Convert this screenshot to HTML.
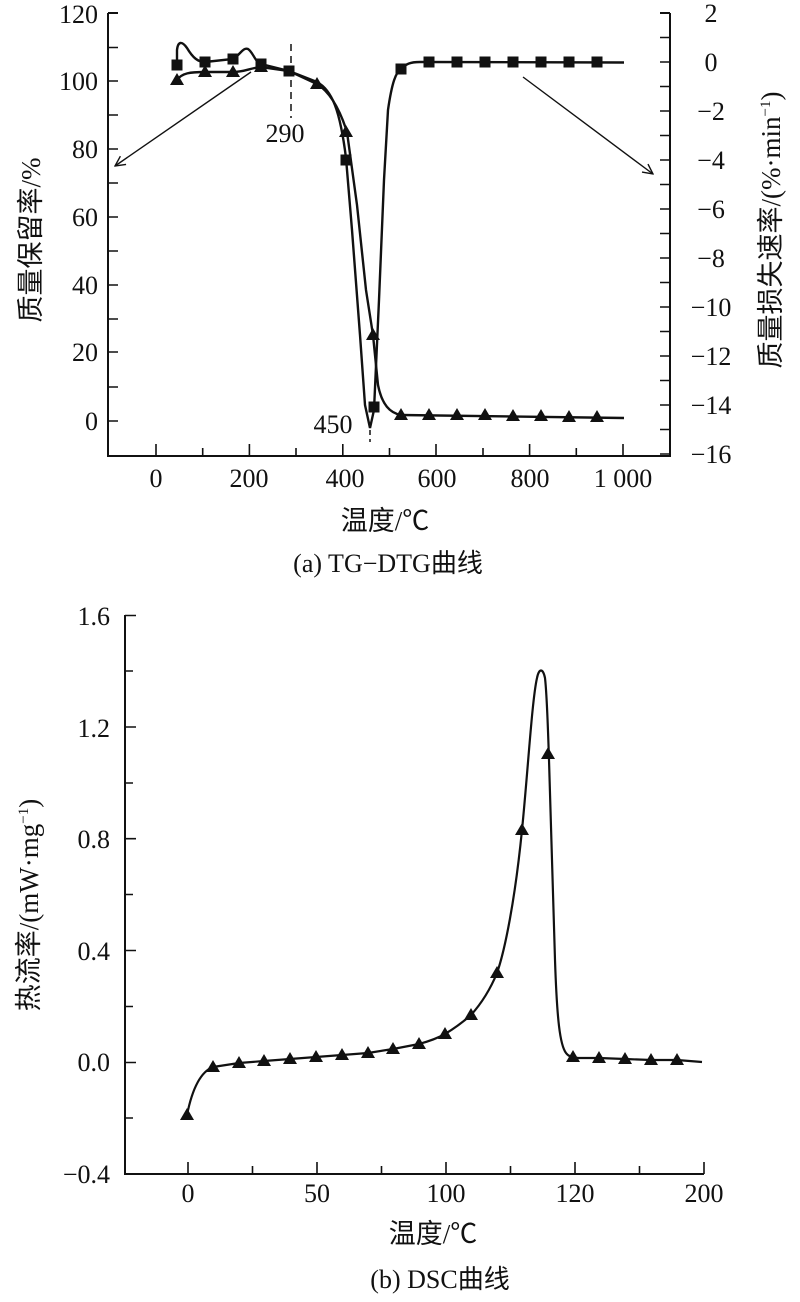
<!DOCTYPE html>
<html><head><meta charset="utf-8"><style>
html,body{margin:0;padding:0;background:#fff;}
svg{display:block;}
text{font-family:"Liberation Serif","Noto Serif CJK SC","Noto Sans CJK SC",serif;fill:#111;}
.cj{font-family:"Liberation Serif","Noto Sans CJK SC",sans-serif;}
</style></head><body>
<svg width="800" height="1302" viewBox="0 0 800 1302" xmlns="http://www.w3.org/2000/svg">
<defs>
<marker id="ah" viewBox="0 0 12 12" refX="11" refY="6" markerWidth="12" markerHeight="12" markerUnits="userSpaceOnUse" orient="auto">
<path d="M1,1 L11,6 L1,11" fill="none" stroke="#111" stroke-width="1.4"/>
</marker>
<symbol id="tri" viewBox="-7 -7 14 14" overflow="visible"><polygon points="0,-7 7,5 -7,5" fill="#111"/></symbol>
<symbol id="sq" viewBox="-6 -6 12 12" overflow="visible"><rect x="-5.5" y="-5.5" width="11" height="11" fill="#111"/></symbol>
</defs>

<!-- ===== Chart (a) ===== -->
<g stroke="#111" stroke-width="2" fill="none">
<path d="M108,13 V456 H670 V13"/>
<path d="M108,13 H118 M670,13 H660"/>
</g>
<g stroke="#111" stroke-width="1.6">
<path d="M108,47.5h10M108,81h10M108,115h10M108,149h10M108,183h10M108,217h10M108,251h10M108,285h10M108,319h10M108,352h10M108,387h10M108,421h10"/>
<path d="M670,37.5h-10M670,62h-10M670,86.5h-10M670,111h-10M670,135.5h-10M670,160h-10M670,184.5h-10M670,209h-10M670,233.5h-10M670,258h-10M670,282.5h-10M670,307h-10M670,331.5h-10M670,356h-10M670,380.5h-10M670,405h-10M670,429.5h-10M670,454h-10"/>
<path d="M156,456v-12M202.7,456v-8M249.4,456v-12M296,456v-8M342.8,456v-12M389.5,456v-8M436,456v-12M483,456v-8M529.6,456v-12M576.3,456v-8M623,456v-12"/>
</g>
<g font-size="26" text-anchor="end">
<text x="98" y="23">120</text><text x="98" y="90">100</text><text x="98" y="158">80</text>
<text x="98" y="226">60</text><text x="98" y="294">40</text><text x="98" y="361">20</text><text x="98" y="430">0</text>
</g>
<g font-size="26" text-anchor="middle">
<text x="711" y="22">2</text><text x="711" y="71">0</text><text x="711" y="120">−2</text><text x="711" y="169">−4</text>
<text x="711" y="218">−6</text><text x="711" y="267">−8</text><text x="711" y="316">−10</text><text x="711" y="365">−12</text>
<text x="711" y="414">−14</text><text x="711" y="463">−16</text>
<text x="156" y="487">0</text><text x="249" y="487">200</text><text x="345" y="487">400</text>
<text x="437" y="487">600</text><text x="530" y="487">800</text><text x="623" y="487">1 000</text>
</g>
<text class="cj" font-size="27" text-anchor="middle" transform="translate(40,240) rotate(-90)">质量保留率/%</text>
<text class="cj" font-size="27" text-anchor="middle" transform="translate(780,230) rotate(-90)">质量损失速率/(%·min<tspan font-size="15" dy="-10">−1</tspan><tspan dy="10">)</tspan></text>
<text class="cj" font-size="27" text-anchor="middle" x="385" y="530">温度/℃</text>
<text class="cj" font-size="26" text-anchor="middle" x="388" y="572">(a)  TG−DTG曲线</text>

<path d="M291,44 V118" stroke="#111" stroke-width="1.5" stroke-dasharray="7,5"/>
<path d="M370,430 V442" stroke="#111" stroke-width="1.5" stroke-dasharray="5,4"/>
<text x="285" y="142" font-size="26" text-anchor="middle">290</text>
<text x="333" y="433" font-size="26" text-anchor="middle">450</text>

<path d="M251,72 L115,166" stroke="#111" stroke-width="1.4" fill="none" marker-end="url(#ah)"/>
<path d="M523,77 L653,174" stroke="#111" stroke-width="1.4" fill="none" marker-end="url(#ah)"/>

<path d="M177,65 L177,50 C178,41 182,41 187,48 C193,58 198,62 205,62 L233,59 C240,55 243,47 248,49 C253,52 255,62 261,64 L289,71 L317,82 C332,90 340,110 346,158 L352,230 L360,335 L365,405 L370,428 L374,410 L379,300 L384,180 L388,110 C392,82 396,72 401,69 C406,64 410,62 420,62 L624,62.5" fill="none" stroke="#111" stroke-width="2.4"/>
<path d="M177,80 C182,73 190,72 205,72 L233,72 C245,72 250,68 261,67 L289,71 L317,84 C330,92 340,110 347,132 L357,205 L366,290 L373,335 L378,385 C382,405 390,413 401,415 L624,418" fill="none" stroke="#111" stroke-width="2.4"/>

<g>
<use href="#sq" x="171" y="59" width="12" height="12"/>
<use href="#sq" x="199" y="56" width="12" height="12"/>
<use href="#sq" x="227" y="53" width="12" height="12"/>
<use href="#sq" x="255" y="58" width="12" height="12"/>
<use href="#sq" x="283" y="65" width="12" height="12"/>
<use href="#sq" x="340" y="154" width="12" height="12"/>
<use href="#sq" x="368" y="401" width="12" height="12"/>
<use href="#sq" x="395" y="63" width="12" height="12"/>
<use href="#sq" x="423" y="56" width="12" height="12"/>
<use href="#sq" x="451" y="56" width="12" height="12"/>
<use href="#sq" x="479" y="56" width="12" height="12"/>
<use href="#sq" x="507" y="56" width="12" height="12"/>
<use href="#sq" x="535" y="56" width="12" height="12"/>
<use href="#sq" x="563" y="56" width="12" height="12"/>
<use href="#sq" x="591" y="56" width="12" height="12"/>
</g>
<g>
<use href="#tri" x="170" y="73" width="14" height="14"/>
<use href="#tri" x="198" y="65" width="14" height="14"/>
<use href="#tri" x="226" y="65" width="14" height="14"/>
<use href="#tri" x="254" y="60" width="14" height="14"/>
<use href="#tri" x="310" y="77" width="14" height="14"/>
<use href="#tri" x="339" y="125" width="14" height="14"/>
<use href="#tri" x="366" y="328" width="14" height="14"/>
<use href="#tri" x="394" y="408" width="14" height="14"/>
<use href="#tri" x="422" y="408" width="14" height="14"/>
<use href="#tri" x="450" y="408" width="14" height="14"/>
<use href="#tri" x="478" y="408" width="14" height="14"/>
<use href="#tri" x="506" y="409" width="14" height="14"/>
<use href="#tri" x="534" y="409" width="14" height="14"/>
<use href="#tri" x="562" y="410" width="14" height="14"/>
<use href="#tri" x="590" y="410" width="14" height="14"/>
</g>

<!-- ===== Chart (b) ===== -->
<g stroke="#111" stroke-width="2" fill="none">
<path d="M125,615 V1174 H704"/>
</g>
<g stroke="#111" stroke-width="1.6">
<path d="M125,615.5h11M125,671h8M125,727h11M125,783h8M125,838.7h11M125,894.5h8M125,950.5h11M125,1006.5h8M125,1062.5h11M125,1118h8"/>
<path d="M188,1174v-12M252.5,1174v-8M317,1174v-12M381.5,1174v-8M446,1174v-12M510.5,1174v-8M575,1174v-12M639.5,1174v-8M704,1174v-12"/>
</g>
<g font-size="26" text-anchor="end">
<text x="110" y="625">1.6</text><text x="110" y="737">1.2</text><text x="110" y="848">0.8</text>
<text x="110" y="960">0.4</text><text x="110" y="1071">0.0</text><text x="110" y="1183">−0.4</text>
</g>
<g font-size="26" text-anchor="middle">
<text x="188" y="1202">0</text><text x="317" y="1202">50</text><text x="446" y="1202">100</text>
<text x="575" y="1202">120</text><text x="704" y="1202">200</text>
</g>
<text class="cj" font-size="27" text-anchor="middle" transform="translate(38,905) rotate(-90)">热流率/(mW·mg<tspan font-size="15" dy="-10">−1</tspan><tspan dy="10">)</tspan></text>
<text class="cj" font-size="27" text-anchor="middle" x="433" y="1243">温度/℃</text>
<text class="cj" font-size="26" text-anchor="middle" x="440" y="1288">(b) DSC曲线</text>

<path d="M187,1115 C192,1090 200,1072 213,1067 L239,1063 L264,1061 L290,1059 L316,1057 L342,1055 L368,1053 L393,1049 L419,1044 C430,1041 438,1038 445,1034 C455,1028 463,1022 471,1015 C480,1005 490,990 497,973 C505,950 515,900 522,830 C528,770 532,700 537,678 C539,668 543,668 545,678 C547,695 548,730 549,760 L552,860 L555,960 C557,1020 560,1045 566,1053 C569,1057 572,1057 578,1058 L599,1058 L625,1059 L651,1060 L677,1060 L702,1062" fill="none" stroke="#111" stroke-width="2.2"/>
<g>
<use href="#tri" x="180" y="1108" width="14" height="14"/>
<use href="#tri" x="206" y="1060" width="14" height="14"/>
<use href="#tri" x="232" y="1056" width="14" height="14"/>
<use href="#tri" x="257" y="1054" width="14" height="14"/>
<use href="#tri" x="283" y="1052" width="14" height="14"/>
<use href="#tri" x="309" y="1050" width="14" height="14"/>
<use href="#tri" x="335" y="1048" width="14" height="14"/>
<use href="#tri" x="361" y="1046" width="14" height="14"/>
<use href="#tri" x="386" y="1042" width="14" height="14"/>
<use href="#tri" x="412" y="1037" width="14" height="14"/>
<use href="#tri" x="438" y="1027" width="14" height="14"/>
<use href="#tri" x="464" y="1008" width="14" height="14"/>
<use href="#tri" x="490" y="966" width="14" height="14"/>
<use href="#tri" x="515" y="823" width="14" height="14"/>
<use href="#tri" x="541" y="747" width="14" height="14"/>
<use href="#tri" x="566" y="1050" width="14" height="14"/>
<use href="#tri" x="592" y="1051" width="14" height="14"/>
<use href="#tri" x="618" y="1052" width="14" height="14"/>
<use href="#tri" x="644" y="1053" width="14" height="14"/>
<use href="#tri" x="670" y="1053" width="14" height="14"/>
</g>
</svg>
</body></html>
